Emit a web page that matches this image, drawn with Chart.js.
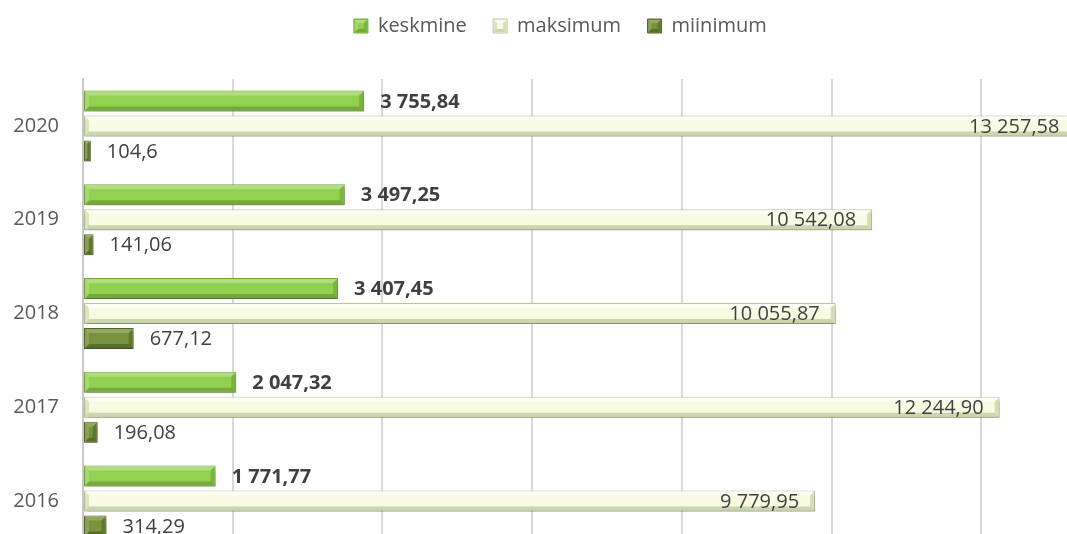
<!DOCTYPE html>
<html><head><meta charset="utf-8">
<script src="https://cdn.jsdelivr.net/npm/chart.js@4/dist/chart.umd.min.js"></script>
<style>
html,body{margin:0;padding:0;background:#fff;overflow:hidden;width:1067px;height:534px}
#wrap{position:absolute;left:0;top:0;width:1140px;height:584px}
</style></head><body><div id="wrap"><canvas id="c" width="1140" height="584"></canvas></div>
<script>
const categories = ['2020', '2019', '2018', '2017', '2016'];
const seriesNames = ['keskmine', 'maksimum', 'miinimum'];
const keskmine = [3755.84, 3497.25, 3407.45, 2047.32, 1771.77];
const maksimum = [13257.58, 10542.08, 10055.87, 12244.90, 9779.95];
const miinimum = [104.6, 141.06, 677.12, 196.08, 314.29];
const xMin = 0, xMax = 14000, xStep = 2000;

const FONT = '"Open Sans", "Liberation Sans", sans-serif';
const styles = [
  {base:'#92d050', border:'#74a83c', top:'rgba(255,255,255,0.28)', left:'rgba(255,255,255,0.18)', bottom:'rgba(50,90,15,0.32)', right:'rgba(50,90,15,0.25)'},
  {base:'#f8fbe2', border:'#bcc8a0', top:'rgba(255,255,255,0.6)', left:'rgba(190,205,150,0.5)', bottom:'rgba(160,178,118,0.5)', right:'rgba(160,178,118,0.4)'},
  {base:'#77933c', border:'#56692c', top:'rgba(255,255,255,0.2)', left:'rgba(255,255,255,0.14)', bottom:'rgba(25,35,5,0.32)', right:'rgba(25,35,5,0.25)'}
];

function fmt(v, series){
  let s = series === 2 ? String(Math.round(v*100)/100) : v.toFixed(2);
  let [i, d] = s.split('.');
  i = i.replace(/\B(?=(\d{3})+(?!\d))/g, ' ');
  return d ? i + ',' + d : i;
}

function poly(ctx, pts, color){
  ctx.beginPath(); ctx.moveTo(pts[0][0], pts[0][1]);
  for (let k = 1; k < pts.length; k++) ctx.lineTo(pts[k][0], pts[k][1]);
  ctx.closePath(); ctx.fillStyle = color; ctx.fill();
}
function bevel(ctx, x0, y0, x1, y1, b, st){
  b = Math.min(b, (x1-x0)/2, (y1-y0)/2);
  poly(ctx, [[x0,y0],[x1,y0],[x1-b,y0+b],[x0+b,y0+b]], st.top);
  poly(ctx, [[x0,y0],[x0+b,y0+b],[x0+b,y1-b],[x0,y1]], st.left);
  poly(ctx, [[x0,y1],[x1,y1],[x1-b,y1-b],[x0+b,y1-b]], st.bottom);
  poly(ctx, [[x1,y0],[x1,y1],[x1-b,y1-b],[x1-b,y0+b]], st.right);
}

const shadowPlugin = {
  id: 'shadow',
  beforeDatasetDraw(chart){
    const ctx = chart.ctx; ctx.save();
    ctx.shadowColor = 'rgba(0,0,0,0.3)'; ctx.shadowBlur = 4; ctx.shadowOffsetX = 1; ctx.shadowOffsetY = 3;
  },
  afterDatasetDraw(chart){ chart.ctx.restore(); }
};

const decoPlugin = {
  id: 'deco',
  beforeLayout(chart){
    const lg = chart.legend;
    if (lg && !lg._patched){
      const orig = lg.fit;
      lg.fit = function(){ orig.call(this); this.height = 79; };
      lg._patched = true;
    }
  },
  afterDatasetsDraw(chart){
    const ctx = chart.ctx;
    chart.data.datasets.forEach((ds, i) => {
      const meta = chart.getDatasetMeta(i);
      meta.data.forEach((el, j) => {
        const p = el.getProps(['x','y','base','height'], true);
        const x0 = Math.min(p.base, p.x), x1 = Math.max(p.base, p.x);
        const y0 = p.y - p.height/2, y1 = p.y + p.height/2;
        ctx.save();
        bevel(ctx, x0+1, y0+1, x1-1, y1-1, 4, styles[i]);
        ctx.font = (i === 0 ? 'bold ' : '') + '20px ' + FONT;
        ctx.fillStyle = '#404040';
        ctx.textBaseline = 'middle';
        const txt = fmt(ds.data[j], i);
        if (i === 1){ ctx.textAlign = 'right'; ctx.fillText(txt, p.x - 16, p.y + 1); }
        else { ctx.textAlign = 'left'; ctx.fillText(txt, p.x + 16, p.y + 1); }
        ctx.restore();
      });
    });
  },
  afterDraw(chart){
    const lg = chart.legend; if (!lg || !lg.legendHitBoxes) return;
    const ctx = chart.ctx;
    lg.legendHitBoxes.forEach((hb, i) => {
      const bh = 14, by = hb.top + (hb.height - bh)/2;
      ctx.save();
      bevel(ctx, hb.left+1, by+1, hb.left+13, by+13, 3, styles[i]);
      ctx.restore();
    });
  }
};

const vals = [keskmine, maksimum, miinimum];
function build(){
  new Chart(document.getElementById('c'), {
    type: 'bar',
    data: {
      labels: categories,
      datasets: seriesNames.map((n, i) => ({
        label: n, data: vals[i],
        backgroundColor: styles[i].base, borderColor: styles[i].border,
        borderWidth: 1, borderSkipped: false,
        categoryPercentage: 0.8, barPercentage: 0.84
      }))
    },
    options: {
      responsive: false, animation: false, indexAxis: 'y',
      layout: {padding: {left: 0, right: 9, top: 0, bottom: 14}},
      plugins: {
        legend: {position: 'top', labels: {
          boxWidth: 14, boxHeight: 14, padding: 16, color: '#595959', font: {family: FONT, size: 20},
          generateLabels(chart){
            const items = Chart.defaults.plugins.legend.labels.generateLabels(chart);
            items.forEach(it => { it.text = it.text + '  '; });
            return items;
          }
        }},
        tooltip: {enabled: false}
      },
      scales: {
        x: {min: xMin, max: xMax, ticks: {display: false, stepSize: xStep},
            grid: {color: '#d9d9d9', lineWidth: 2, drawTicks: false}, border: {display: false}},
        y: {grid: {display: false, drawTicks: false}, border: {display: true, color: '#c8c8c8', width: 2},
            ticks: {padding: 24, color: '#595959', font: {family: FONT, size: 20}},
            afterFit(s){ s.width = 83; }}
      }
    },
    plugins: [shadowPlugin, decoPlugin]
  });
}
Promise.all([document.fonts.load('20px "Open Sans"'), document.fonts.load('bold 20px "Open Sans"')]).then(build, build);
</script></body></html>
